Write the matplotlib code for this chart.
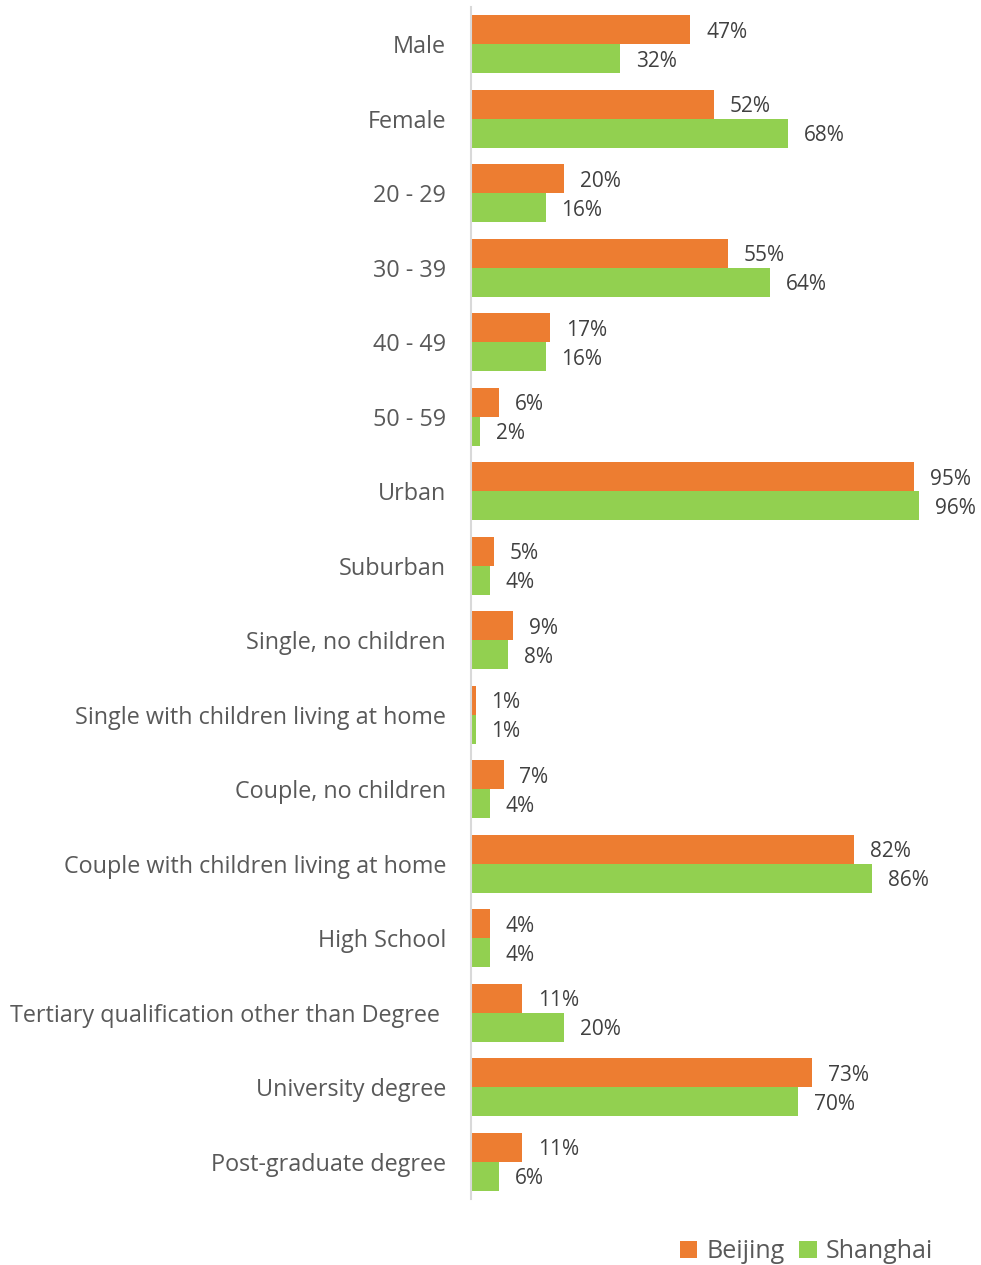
import numpy as np
import matplotlib.pyplot as plt

plt.rcParams['font.family'] = ['Open Sans', 'DejaVu Sans']

categories = ['Male', 'Female', '20 - 29', '30 - 39', '40 - 49', '50 - 59',
              'Urban', 'Suburban', 'Single, no children',
              'Single with children living at home', 'Couple, no children',
              'Couple with children living at home', 'High School',
              'Tertiary qualification other than Degree ',
              'University degree', 'Post-graduate degree']
beijing = [47, 52, 20, 55, 17, 6, 95, 5, 9, 1, 7, 82, 4, 11, 73, 11]
shanghai = [32, 68, 16, 64, 16, 2, 96, 4, 8, 1, 4, 86, 4, 20, 70, 6]

orange = '#ED7D31'
green = '#92D050'

fig = plt.figure(figsize=(9.81, 12.65), dpi=100)
ax = fig.add_axes([0.480, 0.0520, 0.476, 0.9426])

y = np.arange(len(categories))
h = 0.39
b1 = ax.barh(y - h / 2, beijing, height=h, color=orange, label='Beijing')
b2 = ax.barh(y + h / 2, shanghai, height=h, color=green, label='Shanghai')

# value labels just past the end of each bar
for bars, vals in ((b1, beijing), (b2, shanghai)):
    for bar, v in zip(bars, vals):
        ax.text(v + 3.4, bar.get_y() + bar.get_height() / 2, f'{v}%',
                va='center_baseline', ha='left', fontsize=15, color='#404040')

ax.set_xlim(0, 100)
ax.set_ylim(len(categories) - 0.5, -0.5)
ax.set_yticks(y)
ax.set_yticklabels(categories, fontsize=16.8, color='#595959')
ax.tick_params(axis='y', length=0, pad=18)
ax.set_xticks([])
for s in ('top', 'right', 'bottom'):
    ax.spines[s].set_visible(False)
ax.spines['left'].set_color('#d9d9d9')
ax.spines['left'].set_linewidth(1.5)

fig.legend(handles=[b1, b2], loc='center', bbox_to_anchor=(0.822, 0.0105),
           ncol=2, frameon=False, fontsize=18, handlelength=0.7,
           handleheight=0.7, handletextpad=0.35, columnspacing=0.6,
           labelcolor='#595959')

fig.savefig('out.png', dpi=100)
